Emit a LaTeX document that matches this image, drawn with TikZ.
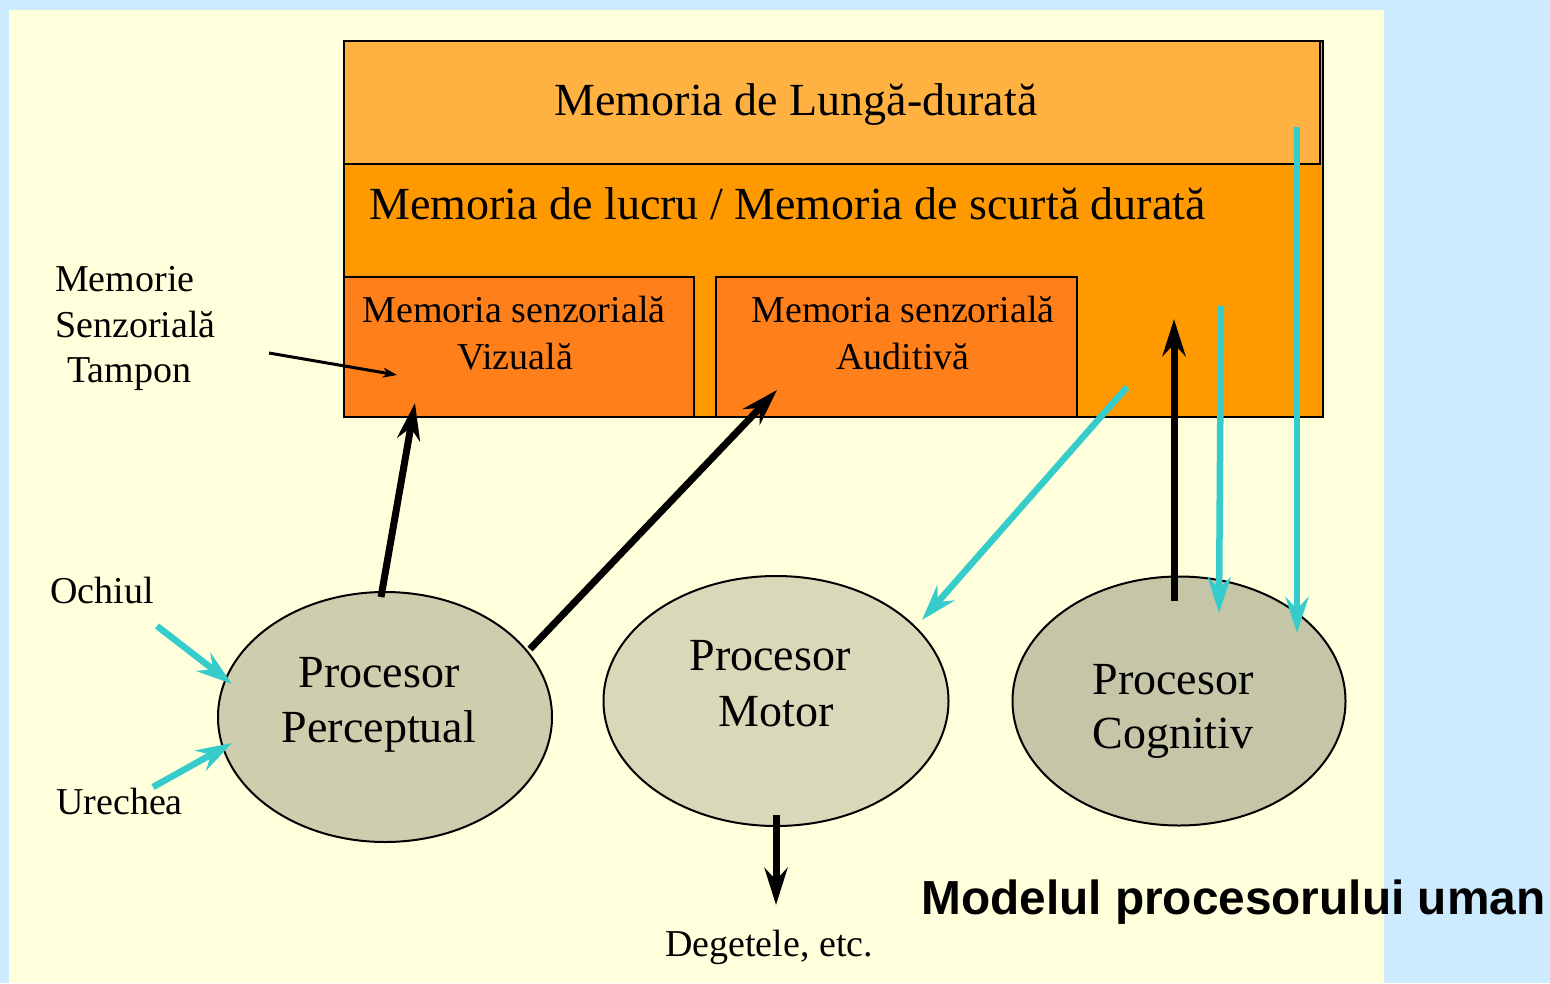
\documentclass[tikz,border=0pt]{standalone}
\usepackage{fontspec}
\setmainfont{Liberation Serif}
\newfontfamily\titlefont{Liberation Sans}
\usetikzlibrary{arrows.meta,shapes.geometric}
\definecolor{bgblue}{HTML}{CCEBFF}
\definecolor{bgyellow}{HTML}{FFFFDC}
\definecolor{ltm}{HTML}{FFB242}
\definecolor{wm}{HTML}{FF9900}
\definecolor{sens}{HTML}{FF801A}
\definecolor{ellA}{HTML}{CECEAE}
\definecolor{ellB}{HTML}{D9D9BA}
\definecolor{ellC}{HTML}{C5C5A8}
\definecolor{cyanarr}{HTML}{36CCCC}
\tikzset{
  boxstyle/.style={draw=black, line width=2pt, inner sep=0pt, anchor=north west},
  ellstyle/.style={ellipse, draw=black, line width=2pt, inner sep=0pt},
  bigtext/.style={font=\fontsize{46}{55}\selectfont, anchor=base, inner sep=0pt},
  midtext/.style={font=\fontsize{38}{46}\selectfont, anchor=base, inner sep=0pt},
  blackarr/.style={draw=black, line width=7pt, -{Stealth[length=37pt,width=23pt,inset=12pt]}},
  thinarr/.style={draw=black, line width=3pt, -{Stealth[length=14pt,width=10pt,inset=4pt]}},
  cyanarrow/.style={draw=cyanarr, line width=6.5pt, -{Stealth[length=36pt,width=23pt,inset=12pt]}},
}
\begin{document}
\begin{tikzpicture}[x=1pt,y=-1pt]
\useasboundingbox (0,0) rectangle (1550,983);
\fill[bgblue] (0,0) rectangle (1550,983);
\fill[bgyellow] (9,10) rectangle (1384,983);

% memory boxes
\node[boxstyle, fill=wm, minimum width=979pt, minimum height=376pt] (wmbox) at (343,40) {};
\node[boxstyle, fill=ltm, minimum width=976pt, minimum height=123pt] (ltmbox) at (343,40) {};
\node[boxstyle, fill=sens, line width=1.5pt, minimum width=350pt, minimum height=140pt] (vizbox) at (343,276) {};
\node[boxstyle, fill=sens, line width=1.5pt, minimum width=361pt, minimum height=140pt] (audbox) at (715,276) {};

\node[bigtext] (ltmtext) at (796,115) {Memoria de Lungă-durată};
\node[bigtext, anchor=base west] (wmtext) at (369,219) {Memoria de lucru / Memoria de scurtă durată};
\node[midtext] (viz1) at (514,322) {Memoria senzorială};
\node[midtext] (viz2) at (515,369) {Vizuală};
\node[midtext] (aud1) at (903,322) {Memoria senzorială};
\node[midtext] (aud2) at (903,369) {Auditivă};

% processors
\node[ellstyle, fill=ellA, minimum width=334pt, minimum height=250pt] (perc) at (385,717) {};
\node[ellstyle, fill=ellB, minimum width=345pt, minimum height=250pt] (motor) at (776,701) {};
\node[ellstyle, fill=ellC, minimum width=333pt, minimum height=249pt] (cogn) at (1179,701) {};

\node[bigtext] (perc1) at (379,687) {Procesor};
\node[bigtext] (perc2) at (379,742) {Perceptual};
\node[bigtext] (mot1) at (770,670) {Procesor};
\node[bigtext] (mot2) at (776,726) {Motor};
\node[bigtext] (cog1) at (1173,694) {Procesor};
\node[bigtext] (cog2) at (1173,748) {Cognitiv};

% labels
\node[midtext, anchor=base west] (lab1) at (55,291) {Memorie};
\node[midtext, anchor=base west] (lab2) at (55,337) {Senzorială};
\node[midtext, anchor=base west] (lab3) at (67,382) {Tampon};
\node[midtext, anchor=base west] (ochi) at (50,603) {Ochiul};
\node[midtext, anchor=base west] (urech) at (56,814) {Urechea};
\node[midtext] (deget) at (769,956) {Degetele, etc.};
\node[font=\titlefont\bfseries\fontsize{47.8}{55}\selectfont, anchor=base west, inner sep=0pt] (title) at (921,914) {Modelul procesorului uman};

% connector endpoints
\coordinate (tamp-s) at (269,353);
\coordinate (tamp-e) at (397,375);
\coordinate (perc-a) at (381,597);
\coordinate (viz-tip) at (415,403);
\coordinate (perc-b) at (530,649);
\coordinate (aud-tip) at (777,390);
\coordinate (mot-a) at (776,815);
\coordinate (mot-tip) at (776,905);
\coordinate (cog-a) at (1174,601);
\coordinate (wm-tip) at (1174,319);
\coordinate (ochi-s) at (157,626);
\coordinate (ochi-tip) at (232,684);
\coordinate (ure-s) at (153,787);
\coordinate (ure-tip) at (232,743);
\coordinate (wm-c1) at (1127,387);
\coordinate (mot-ctip) at (922,620);
\coordinate (wm-c2) at (1221,306);
\coordinate (cog-tip1) at (1219,613);
\coordinate (ltm-c) at (1297,127);
\coordinate (cog-tip2) at (1297,633);

% arrows
\draw[thinarr] (tamp-s) -- (tamp-e);
\draw[blackarr] (perc-a) -- (viz-tip);
\draw[blackarr] (perc-b) -- (aud-tip);
\draw[blackarr] (mot-a) -- (mot-tip);
\draw[blackarr] (cog-a) -- (wm-tip);
\draw[cyanarrow] (ochi-s) -- (ochi-tip);
\draw[cyanarrow] (ure-s) -- (ure-tip);
\draw[cyanarrow] (wm-c1) -- (mot-ctip);
\draw[cyanarrow] (wm-c2) -- (cog-tip1);
\draw[cyanarrow] (ltm-c) -- (cog-tip2);
\end{tikzpicture}
\end{document}
